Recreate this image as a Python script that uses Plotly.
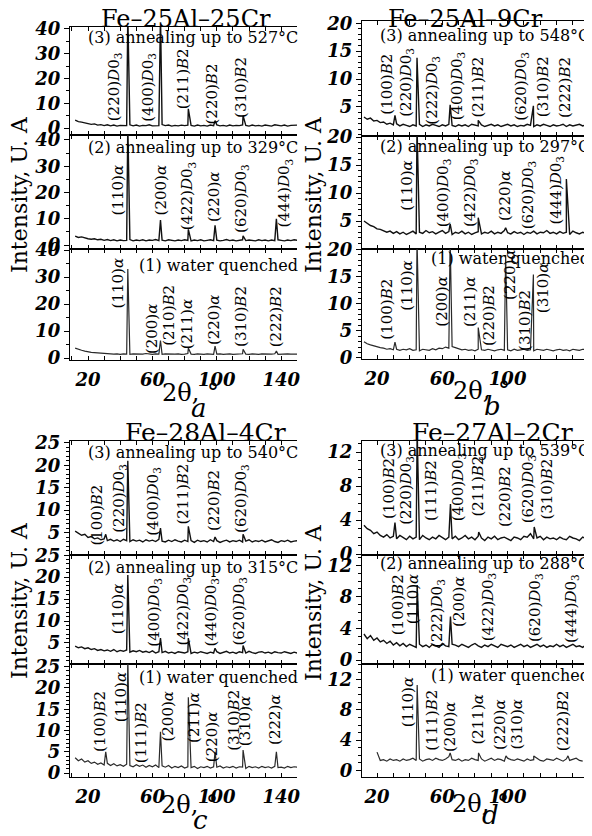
import plotly.graph_objects as go

# The page body has an 8px margin, so the figure is sized to fit the window
# and every screen position below is converted with that offset.
OFF = 8
W, H = 592 - OFF, 836 - OFF
FONT = "DejaVu Serif"

# ---------------- data ----------------
TWO_THETA = [12, 14, 16, 18, 20, 22, 24, 26, 28, 30, 32, 34, 36, 38, 40, 42, 44, 46, 48, 50,
             52, 54, 56, 58, 60, 62, 64, 66, 68, 70, 72, 74, 76, 78, 80, 82, 84, 86, 88, 90,
             92, 94, 96, 98, 100, 102, 104, 106, 108, 110, 112, 114, 116, 118, 120, 122, 124, 126, 128, 130,
             132, 134, 136, 138, 140, 142, 144, 146, 148, 150]

# Fe-25Al-25Cr
A3_BASE = [3.2, 2.6, 2.4, 2.0, 1.8, 1.5, 1.7, 1.2, 1.4, 1.0,
           1.3, 0.9, 1.2, 0.8, 1.1, 0.9, 1.0, 1.3, 0.9, 1.2,
           0.8, 1.1, 1.0, 1.3, 0.9, 1.1, 1.0, 1.4, 1.0, 1.2,
           0.8, 1.1, 0.9, 1.2, 1.0, 1.2, 1.1, 0.8, 1.2, 0.9,
           1.1, 0.8, 1.2, 1.0, 1.3, 0.9, 1.1, 0.8, 1.2, 0.9,
           1.1, 1.0, 1.3, 1.1, 0.8, 1.2, 0.9, 1.1, 0.8, 1.2,
           1.0, 0.8, 1.3, 1.0, 0.9, 1.2, 0.8, 1.1, 1.0, 1.2]
A3_PK_T = [44.7, 65.0, 82.3, 98.9, 116.3]
A3_PK_I = [46.0, 46.0, 7.8, 3.0, 5.0]
A3_LABELS = ["(220)D03", "(400)D03", "(211)B2", "(220)B2", "(310)B2"]

A2_BASE = [3.4, 2.9, 3.1, 2.6, 2.4, 2.2, 2.4, 2.0, 2.2, 1.8,
           2.1, 1.7, 2.0, 1.6, 1.9, 1.7, 1.8, 2.1, 1.6, 1.9,
           1.7, 2.0, 1.6, 1.9, 1.8, 2.1, 1.7, 1.9, 1.6, 2.0,
           1.8, 1.6, 1.9, 1.7, 2.0, 1.8, 1.6, 1.9, 1.7, 2.0,
           1.6, 1.8, 2.0, 1.7, 1.9, 1.6, 1.8, 2.1, 1.7, 1.9,
           1.6, 1.8, 2.0, 1.7, 1.9, 1.8, 1.6, 2.0, 1.7, 1.9,
           1.6, 1.9, 1.7, 2.0, 1.8, 1.6, 1.9, 1.7, 2.0, 1.8]
A2_PK_T = [44.7, 65.0, 82.3, 98.9, 116.3, 137.0]
A2_PK_I = [46.0, 9.5, 6.0, 7.5, 3.5, 10.0]
A2_LABELS = ["(110)α", "(200)α", "(422)D03", "(220)α", "(620)D03", "(444)D03"]

A1_BASE = [3.7, 3.2, 2.9, 2.6, 2.3, 2.1, 2.0, 1.9, 1.8, 1.7,
           1.6, 1.7, 1.5, 1.6, 1.4, 1.6, 1.5, 1.4, 1.6, 1.5,
           1.4, 1.5, 1.7, 1.5, 1.4, 1.6, 1.5, 1.4, 1.6, 1.5,
           1.4, 1.5, 1.6, 1.4, 1.5, 1.7, 1.5, 1.4, 1.6, 1.5,
           1.4, 1.6, 1.5, 1.4, 1.5, 1.6, 1.4, 1.5, 1.6, 1.4,
           1.5, 1.4, 1.6, 1.5, 1.4, 1.6, 1.5, 1.4, 1.6, 1.5,
           1.4, 1.5, 1.6, 1.4, 1.5, 1.4, 1.6, 1.5, 1.4, 1.5]
A1_PK_T = [44.7, 65.0, 82.3, 98.9, 116.3, 137.0]
A1_PK_I = [33.0, 6.5, 3.7, 4.4, 3.3, 2.6]
A1_LABELS = ["(110)α", "(200)α", "(210)B2", "(211)α", "(220)α", "(310)B2", "(222)B2"]

# Fe-25Al-9Cr
B3_BASE = [3.2, 2.8, 3.0, 2.5, 2.6, 2.2, 2.3, 1.9, 2.1, 1.8,
           2.0, 1.6, 1.9, 1.7, 1.5, 1.8, 1.6, 1.9, 1.5, 1.8,
           1.6, 1.9, 1.7, 1.5, 1.8, 1.6, 1.9, 1.7, 1.5, 1.8,
           1.6, 1.8, 1.5, 1.9, 1.7, 1.6, 1.8, 1.5, 1.7, 1.9,
           1.6, 1.8, 1.5, 1.7, 1.9, 1.6, 1.8, 1.5, 1.7, 1.6,
           1.9, 1.7, 1.5, 1.8, 1.6, 1.9, 1.7, 1.5, 1.8, 1.6,
           1.7, 1.9, 1.5, 1.8, 1.6, 1.7, 1.9, 1.6, 1.8, 1.7]
B3_PK_T = [31.0, 44.5, 64.8, 82.0, 115.8]
B3_PK_I = [3.5, 13.8, 5.4, 2.6, 5.2]
B3_LABELS = ["(100)B2", "(220)D03", "(222)D03", "(400)D03", "(211)B2", "(620)D03", "(310)B2", "(222)B2"]

B2_BASE = [5.0, 4.6, 4.2, 4.0, 3.6, 3.5, 3.3, 3.0, 3.2, 2.8,
           3.1, 2.7, 3.0, 2.6, 2.9, 3.2, 2.7, 3.0, 2.8, 3.3,
           2.9, 3.1, 2.7, 3.0, 3.3, 2.8, 3.1, 2.6, 3.0, 2.8,
           3.2, 2.7, 3.0, 2.6, 2.9, 3.1, 2.7, 3.0, 2.8, 3.2,
           2.7, 3.0, 2.8, 3.3, 2.9, 2.7, 3.1, 2.8, 3.0, 2.6,
           3.0, 2.8, 3.2, 2.7, 3.0, 2.9, 3.3, 2.8, 3.0, 2.7,
           3.1, 2.8, 3.0, 2.6, 3.2, 2.9, 2.7, 3.0, 2.8, 3.1]
B2_PK_T = [44.5, 64.8, 82.0, 98.8, 136.0]
B2_PK_I = [22.0, 4.5, 5.6, 3.8, 12.5]
B2_LABELS = ["(110)α", "(400)D03", "(422)D03", "(220)α", "(620)D03", "(444)D03"]

B1_BASE = [3.0, 2.6, 2.4, 2.2, 2.0, 1.9, 1.8, 1.6, 1.7, 1.5,
           1.6, 1.4, 1.6, 1.5, 1.7, 1.4, 1.5, 1.3, 1.6, 1.5,
           1.4, 1.7, 1.5, 1.8, 1.7, 2.0, 1.8, 2.1, 1.9, 1.7,
           1.5, 1.6, 1.4, 1.5, 1.3, 1.6, 1.5, 1.4, 1.6, 1.5,
           1.3, 1.5, 1.6, 1.4, 1.5, 1.3, 1.6, 1.4, 1.5, 1.6,
           1.4, 1.5, 1.3, 1.6, 1.5, 1.4, 1.6, 1.5, 1.3, 1.5,
           1.6, 1.4, 1.5, 1.3, 1.6, 1.5, 1.4, 1.6, 1.5, 1.4]
B1_PK_T = [31.0, 44.5, 64.8, 82.0, 98.8, 115.8]
B1_PK_I = [2.9, 22.0, 22.0, 5.6, 19.0, 15.4]
B1_LABELS = ["(100)B2", "(110)α", "(200)α", "(211)α", "(220)B2", "(220)α", "(310)B2", "(310)α"]

# Fe-28Al-4Cr
C3_BASE = [5.3, 4.8, 4.4, 4.6, 3.9, 4.1, 3.6, 3.8, 3.4, 3.6,
           3.2, 3.5, 3.1, 3.4, 3.0, 3.5, 3.2, 3.0, 3.4, 3.1,
           3.3, 2.9, 3.4, 3.1, 3.3, 3.0, 3.5, 3.1, 2.9, 3.3,
           3.0, 3.4, 3.1, 2.9, 3.3, 3.0, 3.2, 2.8, 3.3, 3.0,
           3.2, 2.9, 3.4, 3.0, 3.2, 2.8, 3.1, 3.3, 2.9, 3.2,
           3.0, 3.3, 2.9, 3.1, 3.4, 2.9, 3.2, 3.0, 3.3, 2.9,
           3.1, 3.4, 3.0, 2.8, 3.2, 3.0, 3.3, 2.9, 3.1, 3.2]
C3_PK_T = [31.0, 44.7, 65.0, 82.3, 98.9, 116.3]
C3_PK_I = [4.6, 21.0, 6.0, 6.4, 4.0, 4.6]
C3_LABELS = ["(100)B2", "(220)D03", "(400)D03", "(211)B2", "(220)B2", "(620)D03"]

C2_BASE = [4.3, 3.9, 4.1, 3.7, 3.9, 3.5, 3.7, 3.3, 3.5, 3.2,
           3.4, 3.1, 3.5, 3.0, 3.3, 3.1, 3.4, 2.9, 3.2, 3.0,
           3.3, 2.9, 3.1, 2.8, 3.2, 2.7, 3.0, 2.8, 3.1, 2.7,
           2.9, 2.6, 3.0, 2.8, 2.7, 3.0, 2.6, 2.9, 2.7, 3.0,
           2.8, 2.6, 2.9, 2.7, 3.0, 2.6, 2.8, 3.1, 2.7, 2.9,
           2.6, 3.0, 2.8, 2.7, 3.1, 2.8, 2.6, 2.9, 3.0, 2.7,
           2.9, 2.6, 3.0, 2.8, 2.7, 3.0, 2.8, 2.6, 2.9, 2.7]
C2_PK_T = [44.7, 65.0, 82.3, 98.9, 116.3]
C2_PK_I = [20.5, 6.1, 6.1, 3.8, 4.4]
C2_LABELS = ["(110)α", "(400)D03", "(422)D03", "(440)D03", "(620)D03"]

C1_BASE = [3.6, 2.9, 3.3, 2.6, 2.9, 2.3, 2.6, 2.1, 2.4, 1.9,
           2.3, 1.8, 2.2, 1.7, 2.0, 1.6, 2.1, 1.8, 1.5, 2.0,
           1.6, 1.9, 1.4, 1.8, 1.5, 1.9, 1.3, 1.7, 1.4, 1.8,
           1.2, 1.6, 1.3, 1.7, 1.2, 1.5, 1.3, 1.6, 1.1, 1.5,
           1.3, 1.6, 1.2, 1.5, 1.4, 1.7, 1.2, 1.5, 1.3, 1.6,
           1.2, 1.5, 1.4, 1.1, 1.6, 1.3, 1.5, 1.2, 1.6, 1.3,
           1.5, 1.2, 1.6, 1.3, 1.4, 1.2, 1.6, 1.3, 1.5, 1.4]
C1_PK_T = [31.0, 44.7, 65.0, 82.3, 98.9, 116.3, 137.0]
C1_PK_I = [5.0, 27.0, 9.7, 17.8, 5.0, 5.4, 5.0]
C1_LABELS = ["(100)B2", "(110)α", "(111)B2", "(200)α", "(211)α", "(220)α", "(310)B2", "(310)α", "(222)α"]

# Fe-27Al-2Cr
D3_BASE = [3.4, 3.0, 2.8, 2.4, 2.6, 2.2, 2.0, 2.3, 1.9, 2.1,
           1.8, 2.2, 1.9, 1.7, 2.1, 1.8, 2.0, 1.7, 2.2, 1.9,
           1.7, 2.0, 1.8, 2.2, 1.9, 1.7, 2.0, 1.8, 2.1, 1.7,
           1.9, 2.2, 1.8, 2.0, 1.7, 2.1, 1.9, 1.6, 2.0, 1.8,
           2.1, 1.7, 1.9, 2.0, 1.8, 1.6, 2.0, 1.9, 1.7, 2.1,
           2.0, 2.4, 1.8, 1.9, 2.1, 1.7, 2.0, 1.8, 1.9, 1.7,
           2.0, 1.8, 1.7, 2.1, 1.9, 1.8, 1.6, 2.0, 1.8, 1.9]
D3_PK_T = [31.0, 44.6, 65.0, 82.3, 116.3]
D3_PK_I = [3.7, 14.5, 5.9, 2.6, 3.2]
D3_LABELS = ["(100)B2", "(220)D03", "(111)B2", "(400)D03", "(211)B2", "(220)B2", "(620)D03", "(310)B2"]

D2_BASE = [3.3, 2.7, 3.1, 2.5, 2.8, 2.3, 2.5, 2.1, 2.4, 1.9,
           2.2, 1.8, 2.1, 1.7, 2.0, 1.8, 1.6, 2.0, 1.7, 1.9,
           1.6, 2.0, 1.8, 1.6, 2.1, 1.8, 1.7, 2.0, 1.9, 1.7,
           2.0, 1.8, 1.6, 1.9, 2.1, 1.8, 1.6, 1.9, 1.7, 2.0,
           1.8, 1.6, 2.0, 1.8, 1.7, 1.9, 1.6, 1.8, 2.0, 1.7,
           1.9, 1.6, 1.8, 2.0, 1.7, 1.9, 1.6, 1.8, 1.7, 2.0,
           1.7, 1.9, 1.6, 1.8, 2.0, 1.7, 1.8, 1.6, 1.9, 1.7]
D2_PK_T = [44.6, 65.0]
D2_PK_I = [9.5, 5.5]
D2_LABELS = ["(100)B2", "(110)α", "(222)D03", "(200)α", "(422)D03", "(620)D03", "(444)D03"]

D1_BASE = [None, None, None, None, 2.4, 1.3, 1.4, 1.2, 1.5, 1.3,
           1.4, 1.2, 1.5, 1.3, 1.4, 1.6, 1.3, 1.5, 1.2, 1.4,
           1.5, 1.3, 1.6, 1.4, 1.3, 1.5, 1.8, 1.4, 1.3, 1.5,
           1.2, 1.4, 1.3, 1.6, 1.4, 1.3, 1.5, 1.2, 1.4, 1.6,
           1.3, 1.5, 1.4, 1.2, 1.6, 1.4, 1.3, 1.5, 1.4, 1.2,
           1.5, 1.3, 1.4, 1.6, 1.3, 1.2, 1.5, 1.4, 1.3, 1.6,
           1.4, 1.2, 1.5, 1.3, 1.4, 1.6, 1.3, 1.2, None, None]
D1_PK_T = [44.6, 64.8, 82.2, 99.0, 116.0, 137.0]
D1_PK_I = [11.3, 2.3, 2.3, 1.9, 1.9, 1.9]
D1_LABELS = ["(110)α", "(111)B2", "(200)α", "(211)α", "(220)α", "(310)α", "(222)B2"]

TITLES = {"a": "Fe–25Al–25Cr", "b": "Fe–25Al–9Cr", "c": "Fe–28Al–4Cr", "d": "Fe–27Al–2Cr"}
CONDITIONS = {
    "a": ["(3) annealing up to 527°C", "(2) annealing up to 329°C", "(1) water quenched"],
    "b": ["(3) annealing up to 548°C", "(2) annealing up to 297°C", "(1) water quenched"],
    "c": ["(3) annealing up to 540°C", "(2) annealing up to 315°C", "(1) water quenched"],
    "d": ["(3) annealing up to 539°C", "(2) annealing up to 288°C", "(1) water quenched"],
}
X_TICK_LABELS = ["20", "60", "100", "140"]
Y_LABEL = "Intensity, U. A"
X_LABEL = "2θ, °"

# ---------------- layout (screen pixel geometry) ----------------
LABEL_POS = {
    "a3": [(36.9, 87), (57.7, 87), (79.2, 79), (97.3, 94), (115.0, 87)],
    "a2": [(38.9, 190), (65.6, 190), (81.7, 196), (98.3, 197), (115.0, 198), (142.0, 193)],
    "a1": [(38.9, 283), (59.8, 329), (70.2, 315), (81.7, 324), (98.3, 320), (115.0, 316), (136.9, 317)],
    "b3": [(25.9, 84), (38.2, 82), (53.5, 90), (69.8, 86), (81.6, 87), (108.6, 86), (121.8, 87), (135.1, 87)],
    "b2": [(38.2, 186), (60.6, 193), (77.0, 193), (98.4, 196), (112.7, 195), (130.0, 190)],
    "b1": [(25.9, 309), (38.2, 286), (59.6, 302), (77.0, 302), (88.6, 316), (101.4, 275), (110.6, 320), (121.8, 288)],
    "c3": [(25.3, 515), (39.7, 498), (60.2, 501), (78.7, 494), (98.2, 500), (115.6, 498)],
    "c2": [(38.7, 609), (60.8, 612), (78.7, 611), (96.1, 612), (113.5, 611)],
    "c1": [(27.4, 721), (40.7, 697), (53.0, 733), (69.4, 717), (85.8, 718), (97.1, 737), (110.5, 720), (117.7, 721), (136.1, 720)],
    "d3": [(27.3, 488), (37.6, 490), (53.1, 491), (69.8, 487), (81.6, 486), (98.4, 497), (112.7, 489), (123.9, 489)],
    "d2": [(33.0, 605), (42.2, 599), (56.6, 613), (70.2, 602), (88.2, 607), (116.8, 608), (138.8, 608)],
    "d1": [(39.2, 702), (53.5, 720), (64.7, 727), (81.6, 720), (95.3, 725), (105.5, 725), (134.1, 721)],
}
PANEL_X = {"a": (70, 297), "b": (362, 592), "c": (70, 297), "d": (362, 592)}
PANEL_XRANGE = {"a": (8.8, 149.8), "b": (10.8, 151.7), "c": (8.8, 149.8), "d": (10.8, 151.7)}
ROWS = {
    "a": [(27, 135, (-2.8, 40.8)), (135, 249, (-1.5, 41.9)), (249, 360, (-0.7, 40.4))],
    "b": [(21, 136, (-0.2, 20.4)), (136, 249, (0.0, 20.2)), (249, 359, (-0.2, 20.1))],
    "c": [(441, 555, (0.0, 25.4)), (555, 664, (0.2, 25.05)), (664, 777, (-0.9, 25.6))],
    "d": [(441, 555, (-0.1, 13.3)), (555, 664, (-0.5, 13.3)), (664, 777, (-0.9, 14.1))],
}
YTICKS = {
    "a": ([0, 10, 20, 30, 40], [0, 10, 20, 30, 40], [0, 10, 20, 30, 40], 5),
    "b": ([5, 10, 15, 20], [5, 10, 15, 20], [0, 5, 10, 15, 20], 1),
    "c": ([5, 10, 15, 20, 25], [5, 10, 15, 20, 25], [0, 5, 10, 15, 20, 25], 1),
    "d": ([0, 4, 8, 12], [0, 4, 8, 12], [0, 4, 8, 12], 1),
}
COND_Y = {"a": [37, 148, 265], "b": [35, 147, 258], "c": [452, 567, 677], "d": [450, 563, 675]}
COND_RIGHT = {"a": 300, "b": 592, "c": 300, "d": 592}
TITLE_POS = {"a": (186, 19.5), "b": (465, 19.5), "c": (205, 432), "d": (492, 432)}
TITLE_SIZE = {"a": 24, "b": 24, "c": 25, "d": 25}
YLAB_POS = {"a": (19, 195), "b": (313, 195), "c": (19, 601), "d": (313, 603)}
XLAB_POS = {"a": (190, 393), "b": (481, 391), "c": (189, 805), "d": (480, 804)}
LETTER_POS = {"a": (199, 408), "b": (492, 406), "c": (200, 820), "d": (490, 815)}

SERIES = {
    "a": [("a3", A3_BASE, A3_PK_T, A3_PK_I, A3_LABELS),
          ("a2", A2_BASE, A2_PK_T, A2_PK_I, A2_LABELS),
          ("a1", A1_BASE, A1_PK_T, A1_PK_I, A1_LABELS)],
    "b": [("b3", B3_BASE, B3_PK_T, B3_PK_I, B3_LABELS),
          ("b2", B2_BASE, B2_PK_T, B2_PK_I, B2_LABELS),
          ("b1", B1_BASE, B1_PK_T, B1_PK_I, B1_LABELS)],
    "c": [("c3", C3_BASE, C3_PK_T, C3_PK_I, C3_LABELS),
          ("c2", C2_BASE, C2_PK_T, C2_PK_I, C2_LABELS),
          ("c1", C1_BASE, C1_PK_T, C1_PK_I, C1_LABELS)],
    "d": [("d3", D3_BASE, D3_PK_T, D3_PK_I, D3_LABELS),
          ("d2", D2_BASE, D2_PK_T, D2_PK_I, D2_LABELS),
          ("d1", D1_BASE, D1_PK_T, D1_PK_I, D1_LABELS)],
}


def pattern(base, pk_t, pk_i):
    assert len(base) == len(TWO_THETA)
    pts = list(zip(TWO_THETA, base)) + list(zip(pk_t, pk_i))
    pts.sort(key=lambda p: p[0])
    return [p[0] for p in pts], [p[1] for p in pts]


def fmt(label):
    return (label.replace("D03", "<i>D</i>0<sub>3</sub>")
                 .replace("B2", "<i>B</i>2")
                 .replace("α", "<i>α</i>"))


def fx(p):
    return min(1.0, max(0.0, (p - OFF) / W))


def fy(p):
    return min(1.0, max(0.0, 1 - (p - OFF) / H))


fig = go.Figure()
layout = dict(width=W, height=H, autosize=False,
              margin=dict(l=0, r=0, t=0, b=0, pad=0, autoexpand=False),
              paper_bgcolor="white", plot_bgcolor="white", showlegend=False,
              font=dict(family=FONT, color="black"), template="none")
ann = []
k = 0
for panel in "abcd":
    x0, x1 = PANEL_X[panel]
    for r in range(3):
        k += 1
        key, base, pk_t, pk_i, labels = SERIES[panel][r]
        top, bot, yr = ROWS[panel][r]
        xs, ys = pattern(base, pk_t, pk_i)
        xn = "x" if k == 1 else f"x{k}"
        yn = "y" if k == 1 else f"y{k}"
        fig.add_trace(go.Scatter(x=xs, y=ys, mode="lines", xaxis=xn, yaxis=yn,
                                 line=dict(color="#111111" if r < 2 else "#2a2a2a",
                                           width=1.4 if r < 2 else 1.2),
                                 hoverinfo="skip"))
        bottom = (r == 2)
        xt = list(range(10, 151, 10))
        layout["xaxis" if k == 1 else f"xaxis{k}"] = dict(
            domain=[fx(x0), fx(x1)], range=list(PANEL_XRANGE[panel]), anchor=yn,
            automargin=False,
            showline=True, linecolor="black", linewidth=1, mirror="ticks",
            ticks="inside", ticklen=4, tickcolor="black",
            tickmode="array", tickvals=xt, tickangle=0,
            ticktext=[f"<b><i>{v}</i></b>" if str(v) in X_TICK_LABELS else " " for v in xt],
            showticklabels=bottom, ticklabelstandoff=3,
            tickfont=dict(family=FONT, size=18, color="black"),
            showgrid=False, zeroline=False, fixedrange=True)
        tv = YTICKS[panel][r]
        mstep = YTICKS[panel][3]
        minor_vals = [v * mstep for v in range(0, int(45 / mstep) + 1) if v * mstep not in tv]
        layout["yaxis" if k == 1 else f"yaxis{k}"] = dict(
            domain=[fy(bot), fy(top)], range=list(yr), anchor=xn,
            automargin=False,
            showline=True, linecolor="black", linewidth=1,
            ticks="outside", ticklen=5, tickcolor="black",
            tickmode="array", tickvals=tv, ticktext=[f"<b><i>{v}</i></b>" for v in tv],
            minor=dict(tickmode="array", tickvals=minor_vals, ticks="outside", ticklen=3, tickcolor="black"),
            tickfont=dict(family=FONT, size=18, color="black"),
            showgrid=False, zeroline=False, fixedrange=True)
        for lab, (t, ypx) in zip(labels, LABEL_POS[key]):
            ann.append(dict(x=t, xref=xn, y=fy(ypx), yref="paper", text=fmt(lab), textangle=-90,
                            showarrow=False, xanchor="center", yanchor="middle",
                            font=dict(family=FONT, size=15, color="black")))
        ann.append(dict(x=fx(COND_RIGHT[panel]), xref="paper", y=fy(COND_Y[panel][r]), yref="paper",
                        text=CONDITIONS[panel][r], showarrow=False, xanchor="right", yanchor="middle",
                        font=dict(family=FONT, size=16, color="black")))
    tx, ty = TITLE_POS[panel]
    ann.append(dict(x=fx(tx), y=fy(ty), xref="paper", yref="paper", text=TITLES[panel],
                    showarrow=False, xanchor="center", yanchor="middle",
                    font=dict(family=FONT, size=TITLE_SIZE[panel], color="black")))
    lx, ly = YLAB_POS[panel]
    ann.append(dict(x=fx(lx), y=fy(ly), xref="paper", yref="paper", text=Y_LABEL, textangle=-90,
                    showarrow=False, xanchor="center", yanchor="middle",
                    font=dict(family=FONT, size=22, color="black")))
    bx, by = XLAB_POS[panel]
    ann.append(dict(x=fx(bx), y=fy(by), xref="paper", yref="paper", text=X_LABEL,
                    showarrow=False, xanchor="center", yanchor="middle",
                    font=dict(family=FONT, size=24, color="black")))
    cx, cy = LETTER_POS[panel]
    ann.append(dict(x=fx(cx), y=fy(cy), xref="paper", yref="paper", text=f"<i>{panel}</i>",
                    showarrow=False, xanchor="center", yanchor="middle",
                    font=dict(family=FONT, size=26, color="black")))

layout["annotations"] = ann
fig.update_layout(**layout)
fig.write_html("out.html")
